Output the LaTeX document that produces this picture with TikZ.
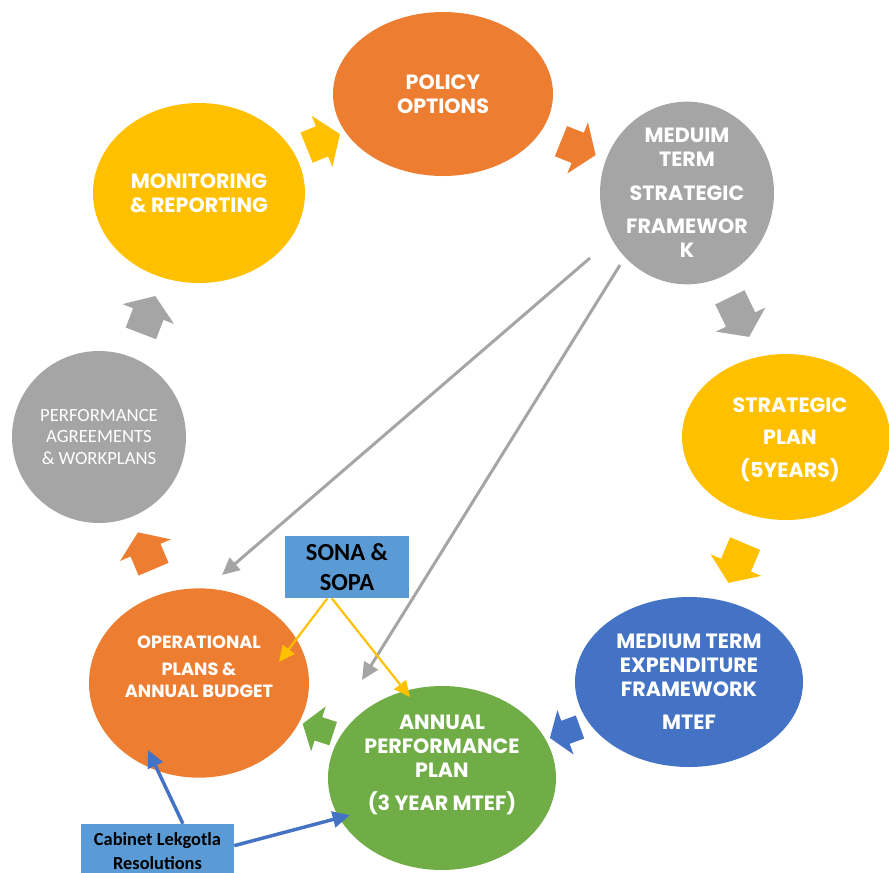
\documentclass[tikz,border=0pt]{standalone}
\usepackage{fontspec}
\setmainfont{Poppins}
\newfontfamily\calfont{Carlito}
\usetikzlibrary{shapes.geometric}
\usetikzlibrary{shapes.arrows}
\usetikzlibrary{arrows.meta}
\definecolor{orng}{HTML}{ED7D31}
\definecolor{grey}{HTML}{A5A5A5}
\definecolor{gold}{HTML}{FFC000}
\definecolor{navy}{HTML}{4472C4}
\definecolor{leaf}{HTML}{70AD47}
\definecolor{sky}{HTML}{5B9BD5}
\begin{document}
\begin{tikzpicture}[x=0.75pt, y=-0.75pt,
        disc/.style = {ellipse, inner sep=0pt, text=white, align=center,
            font=\bfseries\fontsize{15.5}{18}\selectfont},
        ltxt/.style = {text=white, align=center,
            font=\bfseries\fontsize{15.5}{18}\selectfont},
        blk/.style = {single arrow, inner xsep=0pt, inner ysep=12pt,
            single arrow head extend=8.5pt, single arrow tip angle=110},
        box/.style = {rectangle, fill=sky, inner sep=0pt, align=center,
            font=\calfont\bfseries},
        gline/.style = {draw=grey, line width=2.25pt,
            -{Triangle[length=13pt,width=12pt]}},
        yline/.style = {draw=gold, line width=1.6pt,
            -{Triangle[length=12pt,width=11pt]}},
        bline/.style = {draw=navy, line width=2.6pt,
            -{Triangle[length=13pt,width=12pt]}}]
        \useasboundingbox (0,0) rectangle (889,872);
        \clip (0,0) rectangle (889,872);
        % cycle
        \node[disc, fill=orng, minimum width=165pt, minimum height=123pt]
            (pol) at (443,94) {POLICY\\OPTIONS};
        \node[disc, fill=grey, minimum width=130.5pt, minimum height=129pt]
            (mtsf) at (687,193) {MEDUIM\\TERM\\[7pt]STRATEGIC\\[7pt]FRAMEWOR\\K};
        \node[disc, fill=gold, minimum width=156pt, minimum height=124.5pt,
            label={[ltxt, xshift=3pt, yshift=-2pt]center:{STRATEGIC\\[6.5pt]PLAN\\[6.5pt](5YEARS)}}]
            (sp) at (786,437) {};
        \node[disc, fill=navy, minimum width=171pt, minimum height=127.5pt]
            (mtef) at (689,682) {MEDIUM TERM\\EXPENDITURE\\FRAMEWORK\\[6.5pt]MTEF};
        \node[disc, fill=leaf, minimum width=171pt, minimum height=138pt,
            label={[ltxt, yshift=10pt]center:{ANNUAL\\PERFORMANCE\\PLAN\\[6.5pt](3 YEAR MTEF)}}]
            (app) at (442,778) {};
        \node[disc, fill=orng, minimum width=165pt, minimum height=142pt,
            label={[ltxt, yshift=12pt, font=\bfseries\fontsize{13.3}{17}\selectfont]center:{OPERATIONAL\\[3pt]PLANS \&\\ANNUAL BUDGET}}]
            (op) at (199,683) {};
        \node[disc, fill=grey, minimum width=130.5pt, minimum height=129pt,
            font=\calfont\fontsize{14}{16}\selectfont]
            (pa) at (99,437) {PERFORMANCE\\AGREEMENTS\\\& WORKPLANS};
        \node[disc, fill=gold, minimum width=159pt, minimum height=135pt]
            (mon) at (199,193) {MONITORING\\\& REPORTING};
        % block arrows
        \node[blk, fill=gold, minimum height=27pt, rotate=22] (a1) at (318,143) {};
        \node[blk, fill=orng, minimum height=28pt, rotate=-22] (a2) at (573,146) {};
        \node[blk, fill=grey, minimum height=33pt, rotate=-64] (a3) at (737,312) {};
        \node[blk, fill=gold, minimum height=32pt, rotate=247] (a4) at (739,558) {};
        \node[blk, fill=navy, minimum height=24pt, inner ysep=9pt, rotate=200] (a5) at (569,731) {};
        \node[blk, fill=leaf, minimum height=24pt, inner ysep=9pt, rotate=162] (a6) at (322,730) {};
        \node[blk, fill=orng, minimum height=30pt, rotate=113] (a7) at (148,556) {};
        \node[blk, fill=grey, minimum height=30pt, rotate=69] (a8) at (146,320) {};
        % boxes
        \node[box, minimum width=93pt, minimum height=46.5pt,
            font=\calfont\bfseries\fontsize{18.4}{23}\selectfont]
            (sona) at (347,567) {SONA \&\\SOPA};
        \node[box, minimum width=114.75pt, minimum height=40.5pt,
            font=\calfont\bfseries\fontsize{13.8}{17.5}\selectfont]
            (cab) at (157.5,851) {Cabinet Lekgotla\\Resolutions};
        % connectors
        \coordinate (g1s) at (590,258);
        \coordinate (g1e) at (222,575);
        \coordinate (g2s) at (620,265);
        \coordinate (g2e) at (362,680);
        \coordinate (y1e) at (279,662);
        \coordinate (y2e) at (410,697);
        \coordinate (b1e) at (148,750);
        \coordinate (b2e) at (350,815);
        \draw[gline] (g1s) -- (g1e);
        \draw[gline] (g2s) -- (g2e);
        \draw[yline] (sona.238) -- (y1e);
        \draw[yline] (sona.244) -- (y2e);
        \draw[bline] (cab.47) -- (b1e);
        \draw[bline] (cab.4) -- (b2e);
    \end{tikzpicture}
\end{document}
